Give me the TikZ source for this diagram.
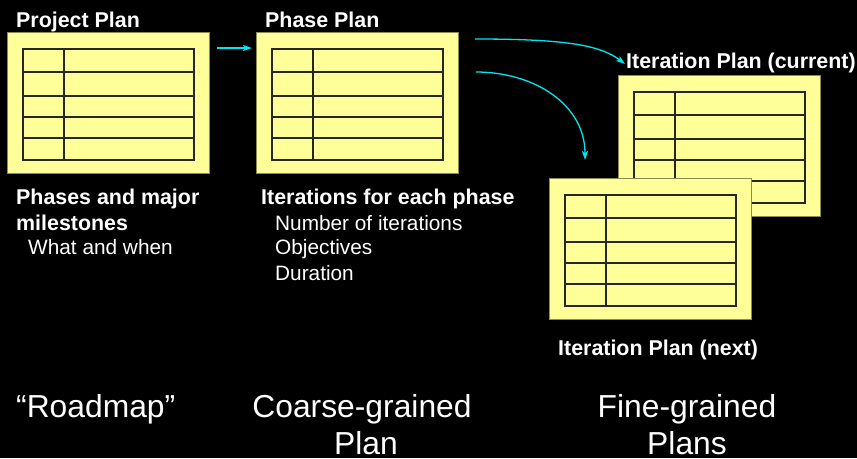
\documentclass[tikz,border=0pt]{standalone}
\usepackage{fontspec}
\setmainfont{Liberation Sans}
\usetikzlibrary{calc,arrows.meta}
\definecolor{padyellow}{HTML}{FFFF99}
\definecolor{padedge}{HTML}{8C8C50}
\definecolor{arrowcyan}{HTML}{00E5EE}
\tikzset{
  plan/.style={draw=padedge, line width=0.8pt, fill=padyellow, minimum width=202pt, minimum height=141pt, inner sep=0pt, anchor=north west},
  gridline/.style={draw=black!85, line width=1.3pt},
  flow/.style={draw=arrowcyan, line width=1.3pt, -{Stealth[length=9pt,width=6pt,inset=2pt]}},
  lbl/.style={text=white, font=\bfseries\fontsize{21.4}{25}\selectfont, anchor=base west, inner sep=0pt},
  txt/.style={text=white, font=\fontsize{20.8}{25}\selectfont, anchor=base west, inner sep=0pt},
  big/.style={text=white, font=\fontsize{31.8}{37}\selectfont, align=center, inner sep=0pt}
}
\newcommand{\plantable}[1]{%
  \draw[gridline] ($(#1.north west)+(16,17)$) rectangle ($(#1.north west)+(187,128)$);
  \draw[gridline] ($(#1.north west)+(57,17)$) -- ($(#1.north west)+(57,128)$);
  \foreach \r in {40,64,85,106}{
    \draw[gridline] ($(#1.north west)+(16,\r)$) -- ($(#1.north west)+(187,\r)$);
  }%
}
\begin{document}
\begin{tikzpicture}[x=1pt,y=-1pt]
\fill[black] (0,0) rectangle (857,458);
\useasboundingbox (0,0) rectangle (857,458);

% plan pads
\node[plan] (pp) at (7,32) {};
\plantable{pp}
\node[plan] (ph) at (256,32) {};
\plantable{ph}
\node[plan] (ic) at (618,75) {};
\plantable{ic}
\node[plan] (in) at (549,178) {};
\plantable{in}

% titles
\node[lbl] (tpp) at (16,27) {Project Plan};
\node[lbl] (tph) at (265,27) {Phase Plan};
\node[lbl] (tic) at (626,68) {Iteration Plan (current)};
\node[lbl] (tin) at (558,355) {Iteration Plan (next)};

% descriptions
\node[lbl] (d1a) at (16,204) {Phases and major};
\node[lbl] (d1b) at (16,230) {milestones};
\node[txt] (d1c) at (28,254) {What and when};
\node[lbl] (d2a) at (261,204) {Iterations for each phase};
\node[txt] (d2b) at (275,230) {Number of iterations};
\node[txt] (d2c) at (275,254) {Objectives};
\node[txt] (d2d) at (275,280) {Duration};

% bottom captions
\node[big, anchor=base west] (c1) at (16,417) {“Roadmap”};
\node[big, anchor=base] (c2) at (362,417) {Coarse-grained};
\node[big, anchor=base] (c2b) at (366,454) {Plan};
\node[big, anchor=base] (c3) at (687,417) {Fine-grained};
\node[big, anchor=base] (c3b) at (687,454) {Plans};

% arrows
\draw[flow] ($(pp.north east)+(7,16)$) -- ($(ph.north west)+(-4,16)$);
\draw[flow] ($(ph.north east)+(16,7)$) .. controls (565,39) and (600,45) .. ($(tic.base west)+(-1,-4)$);
\draw[flow] ($(ph.north east)+(17,40)$) .. controls (535,72) and (585,105) .. ($(in.north west)+(36,-18)$);
\end{tikzpicture}
\end{document}
